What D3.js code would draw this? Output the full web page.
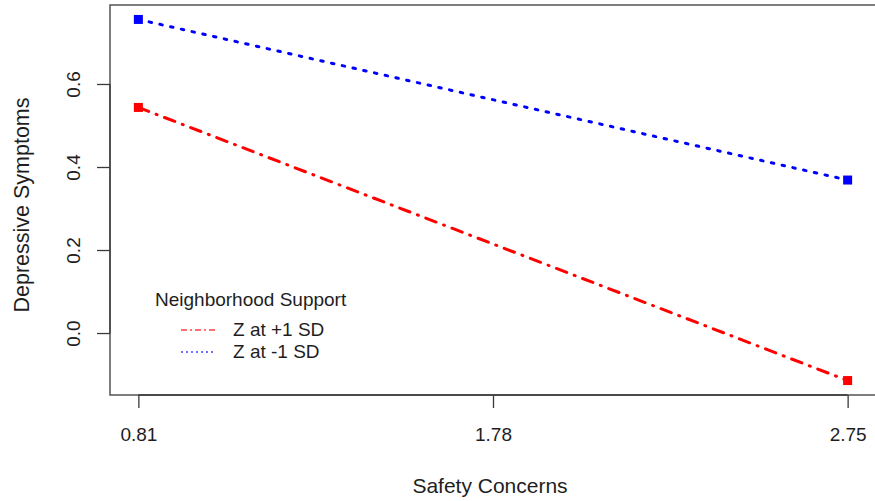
<!DOCTYPE html>
<html>
<head>
<meta charset="utf-8">
<script src="https://cdn.jsdelivr.net/npm/d3@7"></script>
<style>
  html, body { margin: 0; padding: 0; background: #fff; }
  svg { display: block; font-family: "Liberation Sans", Arial, Helvetica, sans-serif; }
</style>
</head>
<body>
<svg id="chart" width="875" height="501"></svg>
<script>
// ---- data ----
const xValues = [0.81, 2.75];
const xTickLabels = ["0.81", "1.78", "2.75"];
const xTicks = [0.81, 1.78, 2.75];
const yTicks = [0.0, 0.2, 0.4, 0.6];
const yTickLabels = ["0.0", "0.2", "0.4", "0.6"];
const seriesNames = ["Z at +1 SD", "Z at -1 SD"];
const seriesColors = ["#ff0000", "#0000ff"];
const plusOneSD = [0.5435, -0.1145];
const minusOneSD = [0.7555, 0.3686];
const xTitle = "Safety Concerns";
const yTitle = "Depressive Symptoms";
const legendTitle = "Neighborhood Support";

const series = [
  { name: seriesNames[0], color: seriesColors[0], values: plusOneSD, dash: "11,8,1,8" },
  { name: seriesNames[1], color: seriesColors[1], values: minusOneSD, dash: "2.5,8.5" }
];

// ---- layout ----
const svg = d3.select("#chart");
const pLeft = 110, pRight = 876, pTop = 5, pBottom = 395;

// R-style 4% extension of data range
function ext(a) {
  const mn = d3.min(a), mx = d3.max(a), r = mx - mn;
  return [mn - 0.04 * r, mx + 0.04 * r];
}
const x = d3.scaleLinear().domain(ext(xValues)).range([pLeft, pRight]);
const y = d3.scaleLinear().domain(ext(plusOneSD.concat(minusOneSD))).range([pBottom, pTop]);

const axisColor = "#3a3a3a";
const textColor = "#1e1e1e";

// box
svg.append("rect")
  .attr("x", pLeft).attr("y", pTop)
  .attr("width", pRight - pLeft).attr("height", pBottom - pTop)
  .attr("fill", "none").attr("stroke", axisColor).attr("stroke-width", 1.3);

// x axis
const xAxis = d3.axisBottom(x).tickValues(xTicks)
  .tickFormat((d, i) => xTickLabels[i]).tickSize(13).tickPadding(20);
const gx = svg.append("g").attr("transform", `translate(0,${pBottom})`).call(xAxis);
gx.select(".domain").attr("stroke", axisColor).attr("stroke-width", 1.3)
  .attr("d", `M${x(xTicks[0])},0H${x(xTicks[xTicks.length-1])}`);
gx.selectAll(".tick line").attr("stroke", axisColor).attr("stroke-width", 1.3);
gx.selectAll(".tick text").attr("fill", textColor)
  .style("font-size", "19px").style("font-family", "Liberation Sans, Arial, sans-serif");

// y axis
const yAxis = d3.axisLeft(y).tickValues(yTicks)
  .tickFormat((d, i) => yTickLabels[i]).tickSize(13).tickPadding(0);
const gy = svg.append("g").attr("transform", `translate(${pLeft},0)`).call(yAxis);
gy.select(".domain").attr("stroke", axisColor).attr("stroke-width", 1.3)
  .attr("d", `M0,${y(yTicks[0])}V${y(yTicks[yTicks.length-1])}`);
gy.selectAll(".tick line").attr("stroke", axisColor).attr("stroke-width", 1.3);
gy.selectAll(".tick text")
  .attr("fill", textColor)
  .attr("x", 0).attr("dy", null)
  .attr("text-anchor", "middle")
  .attr("transform", "translate(-30,0) rotate(-90)")
  .style("font-size", "19px").style("font-family", "Liberation Sans, Arial, sans-serif");

// axis titles
svg.append("text")
  .attr("x", (pLeft + pRight) / 2 - 3).attr("y", 493)
  .attr("text-anchor", "middle").attr("fill", textColor)
  .style("font-size", "21px")
  .text(xTitle);
svg.append("text")
  .attr("transform", `translate(29,${(pTop + pBottom) / 2 + 5}) rotate(-90)`)
  .attr("text-anchor", "middle").attr("fill", textColor)
  .style("font-size", "21.5px")
  .text(yTitle);

// lines and points
const line = d3.line().x((d, i) => x(xValues[i])).y(d => y(d));
series.forEach(s => {
  svg.append("path")
    .attr("d", line(s.values))
    .attr("fill", "none")
    .attr("stroke", s.color)
    .attr("stroke-width", 3)
    .attr("stroke-linecap", "round")
    .attr("stroke-dasharray", s.dash);
});
series.forEach(s => {
  svg.selectAll(null).data(s.values).enter().append("rect")
    .attr("x", (d, i) => x(xValues[i]) - 4.5)
    .attr("y", d => y(d) - 4.5)
    .attr("width", 9).attr("height", 9)
    .attr("fill", s.color);
});

// legend
const lg = svg.append("g");
lg.append("text").attr("x", 155).attr("y", 306)
  .attr("fill", textColor).style("font-size", "19px").text(legendTitle);
const legendRows = [336, 358];
series.forEach((s, i) => {
  const yy = legendRows[i] - 6;
  lg.append("line")
    .attr("x1", 181).attr("x2", 216).attr("y1", yy).attr("y2", yy)
    .attr("stroke", s.color).attr("stroke-width", 1.3)
    .attr("stroke-opacity", 0.75)
    .attr("stroke-dasharray", i === 0 ? "6,3,2,3" : "2,3");
  lg.append("text").attr("x", 233).attr("y", legendRows[i])
    .attr("fill", textColor).style("font-size", "19px").text(s.name);
});
</script>
</body>
</html>
